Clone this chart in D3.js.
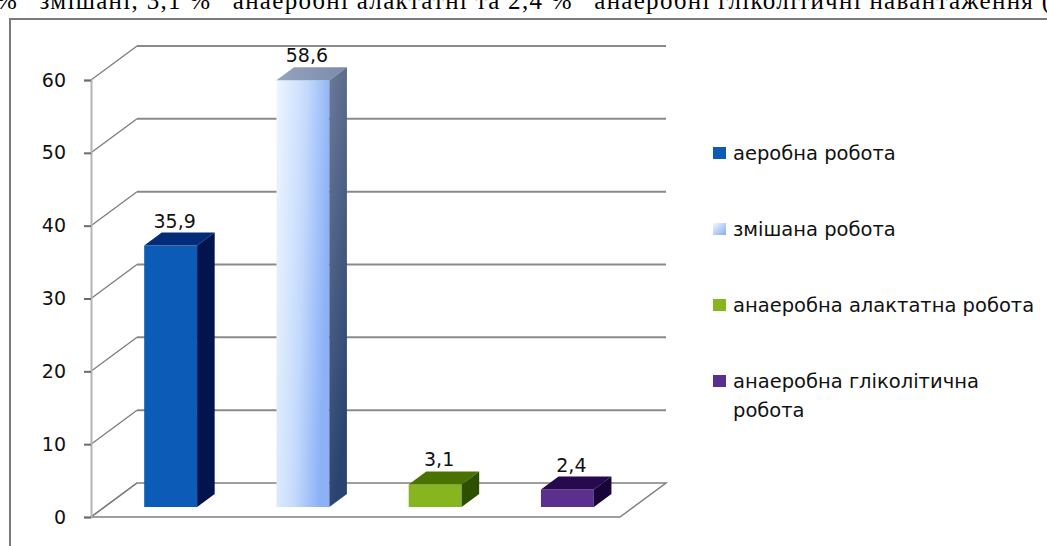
<!DOCTYPE html>
<html>
<head>
<meta charset="utf-8">
<script src="https://cdn.jsdelivr.net/npm/d3@7"></script>
<style>
  body { margin: 0; background: #fff; }
  svg { display: block; }
</style>
</head>
<body>
<svg id="chart" width="1047" height="546"></svg>
<script>
// Chart data
const categories = ['аеробна робота', 'змішана робота', 'анаеробна алактатна робота', 'анаеробна гліколітична робота'];
const values = [35.9, 58.6, 3.1, 2.4];
const valueLabels = ['35,9', '58,6', '3,1', '2,4'];
const yTicks = [0, 10, 20, 30, 40, 50, 60];
const legendLines = [['аеробна робота'], ['змішана робота'], ['анаеробна алактатна робота'], ['анаеробна гліколітична', 'робота']];
const pageText = '% \u2002змішані, 3,1 % \u2002анаеробні алактатні та 2,4 % \u2002анаеробні гліколітичні навантаження (';

// Colours per bar: front, top, side
const palette = [
    { front: '#0c5bb6', top: '#022c78', side: '#01144d' },
    { front: 'url(#gLightFront)', top: 'url(#gLightTop)', side: 'url(#gLightSide)' },
    { front: '#86b51f', top: '#4a7200', side: '#2c4f00' },
    { front: '#5a2f8e', top: '#27094f', side: '#19043a' }
];
const legendFill = ['#0c5bb6', 'url(#gLegend)', '#86b51f', '#5a2f8e'];

const svg = d3.select('#chart');
const font = 'DejaVu Sans, Verdana, sans-serif';

// Gradients for the light bar
const defs = svg.append('defs');
function grad(id, stops, x2, y2) {
    const g = defs.append('linearGradient').attr('id', id)
        .attr('x1', 0).attr('y1', 0).attr('x2', x2).attr('y2', y2);
    stops.forEach(s => g.append('stop').attr('offset', s[0]).attr('stop-color', s[1]));
}
grad('gLightFront', [[0, '#eef6ff'], [0.55, '#c4dafc'], [1, '#8cb1f6']], 1, 0.25);
grad('gLightSide', [[0, '#6c7a98'], [1, '#2a4370']], 0.3, 1);
grad('gLightTop', [[0, '#95a4c0'], [1, '#7a8aa8']], 1, 0);
grad('gLegend', [[0, '#f2f8ff'], [1, '#86abf2']], 1, 1);

// Page text cut at the top
svg.append('text')
    .attr('x', -4).attr('y', 9)
    .attr('font-family', 'Liberation Serif, Times New Roman, serif')
    .attr('font-size', 25)
    .attr('fill', '#000')
    .attr('textLength', 1054)
    .text(pageText);

// Chart frame
svg.append('rect')
    .attr('x', 10).attr('y', 19)
    .attr('width', 1100).attr('height', 600)
    .attr('fill', 'none')
    .attr('stroke', '#7a7a7a')
    .attr('stroke-width', 2);

// Scales (front plane) and depth vector
const y = d3.scaleLinear().domain([0, 60]).range([517, 80]);
const x = d3.scaleBand().domain(categories).range([91, 620]);
const depth = { dx: 46, dy: -34 };
const t0 = 0.294, t1 = 0.676;
const barW = x.step() * 0.4;

// Left wall diagonals and back wall gridlines
const grid = svg.append('g');
grid.selectAll('.back')
    .data(yTicks.filter(d => d > 0))
    .enter().append('line')
    .attr('x1', x.range()[0] + depth.dx).attr('x2', x.range()[1] + depth.dx)
    .attr('y1', d => y(d) + depth.dy).attr('y2', d => y(d) + depth.dy)
    .attr('stroke', '#8a8a8a').attr('stroke-width', 2);
grid.selectAll('.diag')
    .data(yTicks)
    .enter().append('line')
    .attr('x1', x.range()[0]).attr('y1', d => y(d))
    .attr('x2', x.range()[0] + depth.dx).attr('y2', d => y(d) + depth.dy)
    .attr('stroke', '#7c7c7c').attr('stroke-width', 1.3);

// Floor
const floor = [
    [x.range()[0], y(0)], [x.range()[1], y(0)],
    [x.range()[1] + depth.dx, y(0) + depth.dy], [x.range()[0] + depth.dx, y(0) + depth.dy]
];
svg.append('polygon')
    .attr('points', floor.map(p => p.join(',')).join(' '))
    .attr('fill', 'none')
    .attr('stroke', '#808080').attr('stroke-width', 1.5);

// Vertical axis
const axis = svg.append('g').attr('transform', `translate(${x.range()[0]},0)`)
    .call(d3.axisLeft(y).tickValues(yTicks).tickSize(7).tickPadding(18).tickFormat(d3.format('d')));
axis.select('.domain').attr('stroke', '#b4b4b4').attr('stroke-width', 2);
axis.selectAll('.tick line').attr('stroke', '#6c6c6c').attr('stroke-width', 2);
axis.selectAll('.tick text')
    .attr('font-family', font).attr('font-size', 19).attr('fill', '#111');

// Bars
const bars = svg.append('g').selectAll('g')
    .data(values)
    .enter().append('g');

function barGeom(v, i) {
    const xl = x(categories[i]) + (x.bandwidth() - barW) / 2 + t0 * depth.dx;
    const xr = xl + barW;
    const yb = y(0) + t0 * depth.dy;
    const yt = y(v) + t0 * depth.dy;
    const ddx = (t1 - t0) * depth.dx, ddy = (t1 - t0) * depth.dy;
    return { xl, xr, yb, yt, ddx, ddy };
}
const pts = arr => arr.map(p => p.join(',')).join(' ');

bars.append('rect')
    .attr('x', (d, i) => barGeom(d, i).xl)
    .attr('y', (d, i) => barGeom(d, i).yt)
    .attr('width', barW)
    .attr('height', (d, i) => { const g = barGeom(d, i); return g.yb - g.yt; })
    .attr('fill', (d, i) => palette[i].front);
bars.append('polygon')
    .attr('points', (d, i) => {
        const g = barGeom(d, i);
        return pts([[g.xl, g.yt], [g.xr, g.yt], [g.xr + g.ddx, g.yt + g.ddy], [g.xl + g.ddx, g.yt + g.ddy]]);
    })
    .attr('fill', (d, i) => palette[i].top);
bars.append('polygon')
    .attr('points', (d, i) => {
        const g = barGeom(d, i);
        return pts([[g.xr, g.yt], [g.xr + g.ddx, g.yt + g.ddy], [g.xr + g.ddx, g.yb + g.ddy], [g.xr, g.yb]]);
    })
    .attr('fill', (d, i) => palette[i].side);

// Value labels
bars.append('text')
    .attr('x', (d, i) => { const g = barGeom(d, i); return (g.xl + g.xr) / 2 + 4; })
    .attr('y', (d, i) => barGeom(d, i).yt + barGeom(d, i).ddy - 5)
    .attr('text-anchor', 'middle')
    .attr('font-family', font).attr('font-size', 19).attr('fill', '#111')
    .text((d, i) => valueLabels[i]);

// Legend
const legend = svg.append('g').selectAll('g')
    .data(legendLines)
    .enter().append('g')
    .attr('transform', (d, i) => `translate(713,${153 + i * 76})`);
legend.append('rect')
    .attr('x', 0).attr('y', -6)
    .attr('width', 13).attr('height', 12)
    .attr('fill', (d, i) => legendFill[i]);
legend.each(function(lines) {
    const t = d3.select(this).append('text')
        .attr('font-family', font).attr('font-size', 19.5).attr('fill', '#111');
    lines.forEach((line, k) => {
        t.append('tspan').attr('x', 20).attr('y', 7 + k * 29).text(line);
    });
});
</script>
</body>
</html>
